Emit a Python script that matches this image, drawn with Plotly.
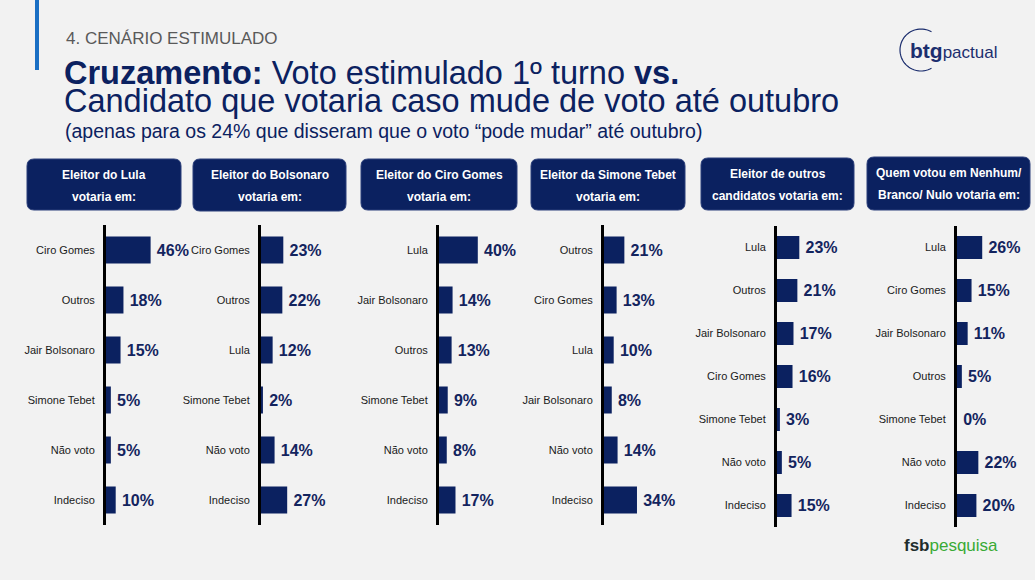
import math
import plotly.graph_objects as go

W, H = 1035, 580

# ---------------- data ----------------
panel_titles = [
    ("Eleitor do Lula", "votaria em:"),
    ("Eleitor do Bolsonaro", "votaria em:"),
    ("Eleitor do Ciro Gomes", "votaria em:"),
    ("Eleitor da Simone Tebet", "votaria em:"),
    ("Eleitor de outros", "candidatos votaria em:"),
    ("Quem votou em Nenhum/", "Branco/ Nulo votaria em:"),
]

cats_lula = ["Ciro Gomes", "Outros", "Jair Bolsonaro", "Simone Tebet", "Não voto", "Indeciso"]
vals_lula = [46, 18, 15, 5, 5, 10]

cats_bolso = ["Ciro Gomes", "Outros", "Lula", "Simone Tebet", "Não voto", "Indeciso"]
vals_bolso = [23, 22, 12, 2, 14, 27]

cats_ciro = ["Lula", "Jair Bolsonaro", "Outros", "Simone Tebet", "Não voto", "Indeciso"]
vals_ciro = [40, 14, 13, 9, 8, 17]

cats_tebet = ["Outros", "Ciro Gomes", "Lula", "Jair Bolsonaro", "Não voto", "Indeciso"]
vals_tebet = [21, 13, 10, 8, 14, 34]

cats_outros = ["Lula", "Outros", "Jair Bolsonaro", "Ciro Gomes", "Simone Tebet", "Não voto", "Indeciso"]
vals_outros = [23, 21, 17, 16, 3, 5, 15]

cats_nenhum = ["Lula", "Ciro Gomes", "Jair Bolsonaro", "Outros", "Simone Tebet", "Não voto", "Indeciso"]
vals_nenhum = [26, 15, 11, 5, 0, 22, 20]

panels = [
    (cats_lula, vals_lula),
    (cats_bolso, vals_bolso),
    (cats_ciro, vals_ciro),
    (cats_tebet, vals_tebet),
    (cats_outros, vals_outros),
    (cats_nenhum, vals_nenhum),
]

# ---------------- layout geometry (pixels) ----------------
axis_x = [106, 261, 439, 604, 777, 957]
px_per_pct = 0.97
xmax = 60
y_top = {6: 225, 7: 226}
y_bot = {6: 525, 7: 527}
boxes = [(27, 181, 159, 210), (193, 346, 159, 211), (361, 517, 159, 210),
         (531, 685, 159, 210), (701, 854, 158, 210), (867, 1030, 157, 210)]

NAVY = "#0b2160"
FONT = "Liberation Sans, Arial, sans-serif"


def X(px):
    return px / W


def Y(py):
    return 1 - py / H


fig = go.Figure()
layout_axes = {}
for i, (cats, vals) in enumerate(panels):
    n = len(cats)
    k = "" if i == 0 else str(i + 1)
    fig.add_trace(go.Bar(
        x=vals, y=cats, orientation="h",
        xaxis="x" + k, yaxis="y" + k,
        marker=dict(color=NAVY, line=dict(width=0)),
        width=0.54,
        text=[f"\u2009{v}%" for v in vals],
        textposition="outside",
        textfont=dict(family=FONT, size=16, color="#13245e", weight="bold"),
        cliponaxis=False,
        constraintext="none",
        showlegend=False,
        hoverinfo="skip",
    ))
    x0 = axis_x[i]
    layout_axes["xaxis" + k] = dict(
        domain=[X(x0), X(x0 + xmax * px_per_pct)],
        range=[0, xmax], visible=False, fixedrange=True,
        anchor="y" + k,
    )
    layout_axes["yaxis" + k] = dict(
        domain=[Y(y_bot[n]), Y(y_top[n])],
        type="category", categoryorder="array", categoryarray=cats,
        autorange="reversed", showline=True, linecolor="#000000", linewidth=3,
        showgrid=False, zeroline=False, ticks="", ticklabelstandoff=6,
        tickfont=dict(family=FONT, size=11, color="#1a1a1a"),
        anchor="x" + k, fixedrange=True,
    )

shapes = []
annotations = []


def rounded(x0, x1, y0, y1, r=7):
    return (f"M {X(x0 + r)} {Y(y0)} L {X(x1 - r)} {Y(y0)} Q {X(x1)} {Y(y0)} {X(x1)} {Y(y0 + r)} "
            f"L {X(x1)} {Y(y1 - r)} Q {X(x1)} {Y(y1)} {X(x1 - r)} {Y(y1)} "
            f"L {X(x0 + r)} {Y(y1)} Q {X(x0)} {Y(y1)} {X(x0)} {Y(y1 - r)} "
            f"L {X(x0)} {Y(y0 + r)} Q {X(x0)} {Y(y0)} {X(x0 + r)} {Y(y0)} Z")


for (bx0, bx1, by0, by1), (l1, l2) in zip(boxes, panel_titles):
    shapes.append(dict(type="path", xref="paper", yref="paper", path=rounded(bx0, bx1, by0, by1),
                       fillcolor=NAVY, line=dict(color="#2b3f7a", width=1), layer="below"))
    cx = X((bx0 + bx1) / 2)
    annotations.append(dict(x=cx, y=Y(by0 + 16), xref="paper", yref="paper", text=f"<b>{l1}</b>",
                            showarrow=False, font=dict(family=FONT, size=12, color="white"),
                            xanchor="center", yanchor="middle"))
    annotations.append(dict(x=cx, y=Y(by0 + 38), xref="paper", yref="paper", text=f"<b>{l2}</b>",
                            showarrow=False, font=dict(family=FONT, size=12, color="white"),
                            xanchor="center", yanchor="middle"))

# blue accent bar
shapes.append(dict(type="rect", xref="paper", yref="paper", x0=X(35), x1=X(39), y0=Y(70), y1=Y(0),
                   fillcolor="#1a6fc4", line=dict(width=0)))

# btg logo arc
cxp, cyp, r = 921, 50, 21
pts = []
for a in range(60, 301, 5):
    ang = math.radians(a)
    pts.append((cxp + r * math.cos(ang), cyp - r * math.sin(ang)))
path = "M " + " L ".join(f"{X(px)} {Y(py)}" for px, py in pts)
shapes.append(dict(type="path", xref="paper", yref="paper", path=path,
                   line=dict(color="#1c2e6e", width=1.2)))

annotations += [
    dict(x=X(64), y=Y(39), xref="paper", yref="paper", xanchor="left", yanchor="middle",
         text="4. CENÁRIO ESTIMULADO", showarrow=False,
         font=dict(family=FONT, size=17, color="#595959")),
    dict(x=X(62), y=Y(73), xref="paper", yref="paper", xanchor="left", yanchor="middle",
         text="<b>Cruzamento:</b> Voto estimulado 1º turno <b>vs.</b>", showarrow=False,
         font=dict(family=FONT, size=32.5, color="#0b2160")),
    dict(x=X(62), y=Y(101), xref="paper", yref="paper", xanchor="left", yanchor="middle",
         text="Candidato que votaria caso mude de voto até outubro", showarrow=False,
         font=dict(family=FONT, size=32.5, color="#0b2160")),
    dict(x=X(63), y=Y(131), xref="paper", yref="paper", xanchor="left", yanchor="middle",
         text="(apenas para os 24% que disseram que o voto “pode mudar” até outubro)", showarrow=False,
         font=dict(family=FONT, size=19.5, color="#0b2160")),
    dict(x=X(908), y=Y(50), xref="paper", yref="paper", xanchor="left", yanchor="middle",
         text="<b>btg</b><span style='font-size:17px'>pactual</span>", showarrow=False,
         font=dict(family=FONT, size=21, color="#1c2e6e")),
    dict(x=X(902), y=Y(545), xref="paper", yref="paper", xanchor="left", yanchor="middle",
         text="<b><span style='color:#1f2d2d'>fsb</span></b><span style='color:#3aaa35'>pesquisa</span>",
         showarrow=False, font=dict(family=FONT, size=17, color="#3aaa35")),
]

fig.update_layout(
    width=W, height=H,
    margin=dict(l=0, r=0, t=0, b=0),
    paper_bgcolor="#f2f2f2", plot_bgcolor="rgba(0,0,0,0)",
    shapes=shapes, annotations=annotations,
    **layout_axes,
)

fig.write_html(
    "out.html",
    config={"displayModeBar": False, "staticPlot": True},
    post_script="document.body.style.margin='0';document.body.style.overflow='hidden';",
)
